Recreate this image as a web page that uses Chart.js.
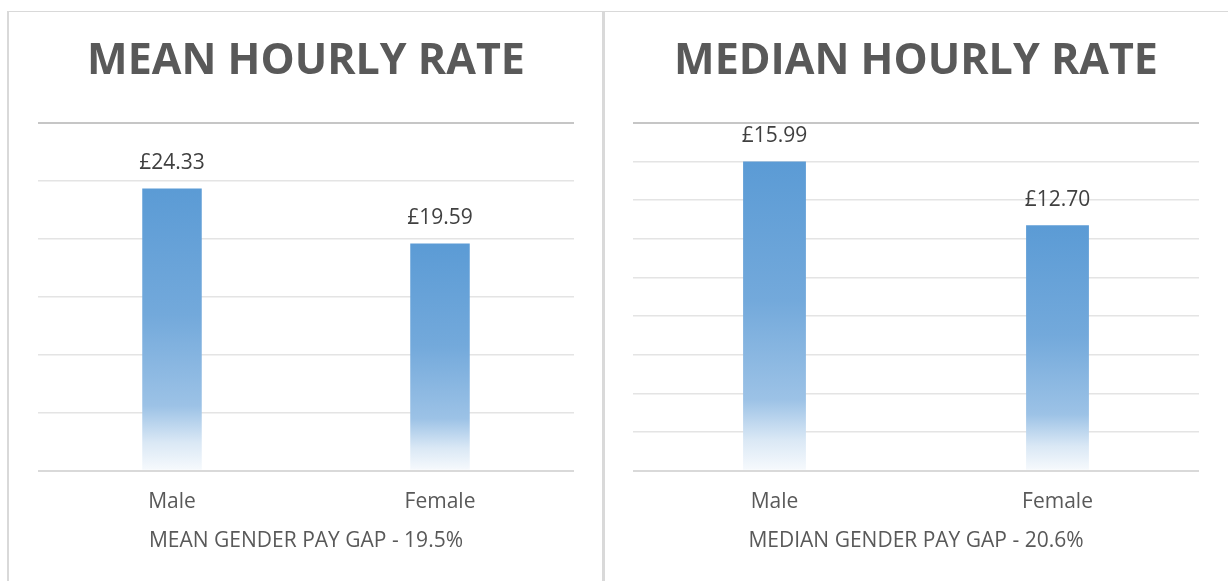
<!DOCTYPE html>
<html>
<head>
<meta charset="utf-8">
<script src="https://cdn.jsdelivr.net/npm/chart.js@4.4.0/dist/chart.umd.min.js"></script>
<style>
  html, body { margin: 0; padding: 0; background: #ffffff; }
  body { width: 1228px; height: 581px; position: relative; overflow: hidden; }
  .line { position: absolute; background: #d9d9d9; }
  .wrap { position: absolute; }
</style>
</head>
<body>
<div class="line" style="left:7px; top:11px; width:1221px; height:1px;"></div>
<div class="line" style="left:7px; top:11px; width:2px; height:570px;"></div>
<div class="line" style="left:602px; top:11px; width:3px; height:570px;"></div>
<div class="wrap" style="left:9px; top:12px; width:593px; height:569px;"><canvas id="meanChart"></canvas></div>
<div class="wrap" style="left:606px; top:12px; width:622px; height:569px;"><canvas id="medianChart"></canvas></div>
<script>
const categories = ['Male', 'Female'];
const meanValues = [24.33, 19.59];
const medianValues = [15.99, 12.70];
const meanTitle = 'MEAN HOURLY RATE';
const medianTitle = 'MEDIAN HOURLY RATE';
const meanGapLabel = 'MEAN GENDER PAY GAP - 19.5%';
const medianGapLabel = 'MEDIAN GENDER PAY GAP - 20.6%';
const meanAxis = { max: 30, step: 5 };
const medianAxis = { max: 18, step: 2 };

const FONT = "'Open Sans', 'DejaVu Sans', sans-serif";

function barGradient(context) {
  const chart = context.chart;
  const yScale = chart.scales && chart.scales.y;
  if (!chart.chartArea || !yScale) return '#5B9BD5';
  const top = yScale.getPixelForValue(context.raw);
  const bottom = yScale.getPixelForValue(0);
  if (!isFinite(top) || !isFinite(bottom) || bottom === top) return '#5B9BD5';
  const g = chart.ctx.createLinearGradient(0, top, 0, bottom);
  g.addColorStop(0, '#5B9BD5');
  g.addColorStop(0.45, '#73A9DB');
  g.addColorStop(0.77, '#9CC2E6');
  g.addColorStop(0.9, '#DAE8F5');
  g.addColorStop(1, '#F7FAFD');
  return g;
}

const valueLabels = {
  id: 'valueLabels',
  afterDatasetsDraw(chart) {
    const ctx = chart.ctx;
    const meta = chart.getDatasetMeta(0);
    ctx.save();
    ctx.font = "21px " + FONT;
    ctx.fillStyle = '#404040';
    ctx.textAlign = 'center';
    ctx.textBaseline = 'middle';
    meta.data.forEach((bar, i) => {
      const v = chart.data.datasets[0].data[i];
      ctx.fillText('£' + v.toFixed(2), bar.x, bar.y - 25);
    });
    ctx.restore();
  }
};

const gapCaption = {
  id: 'gapCaption',
  afterDraw(chart, args, opts) {
    const ctx = chart.ctx;
    const area = chart.chartArea;
    ctx.save();
    ctx.font = "21px " + FONT;
    ctx.fillStyle = '#595959';
    ctx.textAlign = 'center';
    ctx.textBaseline = 'middle';
    ctx.fillText(opts.text, (area.left + area.right) / 2, area.bottom + 70);
    ctx.restore();
  }
};

function makeChart(id, values, title, gapLabel, axis, pad) {
  return new Chart(document.getElementById(id), {
    type: 'bar',
    data: {
      labels: categories,
      datasets: [{
        data: values,
        backgroundColor: barGradient,
        borderWidth: 0,
        categoryPercentage: 1,
        barPercentage: 0.222
      }]
    },
    options: {
      responsive: true,
      maintainAspectRatio: false,
      animation: false,
      events: [],
      layout: { padding: { left: pad.left, right: pad.right, top: 0, bottom: 47 } },
      plugins: {
        legend: { display: false },
        tooltip: { enabled: false },
        gapCaption: { text: gapLabel },
        title: {
          display: true,
          text: title,
          color: '#595959',
          font: { family: FONT, size: 43, weight: 'bold', lineHeight: 1.2 },
          padding: { top: 24, bottom: 35 }
        }
      },
      scales: {
        x: {
          grid: { display: false, drawTicks: false },
          border: { display: false },
          ticks: { color: '#595959', padding: 19, font: { family: FONT, size: 21, lineHeight: 1.2 } }
        },
        y: {
          min: 0,
          max: axis.max,
          ticks: { display: false, stepSize: axis.step },
          border: { display: false },
          grid: {
            drawTicks: false,
            color: (c) => {
              const v = c.tick ? c.tick.value : 0;
              if (v === 0) return '#d9d9d9';
              if (v === axis.max) return '#c6c6c6';
              return '#e4e4e4';
            },
            lineWidth: (c) => {
              const v = c.tick ? c.tick.value : 0;
              if (v === 0 || v === axis.max) return 2;
              return 1.5;
            }
          }
        }
      }
    },
    plugins: [valueLabels, gapCaption]
  });
}

makeChart('meanChart', meanValues, meanTitle, meanGapLabel, meanAxis, { left: 29, right: 28 });
makeChart('medianChart', medianValues, medianTitle, medianGapLabel, medianAxis, { left: 27, right: 29 });
</script>
</body>
</html>
